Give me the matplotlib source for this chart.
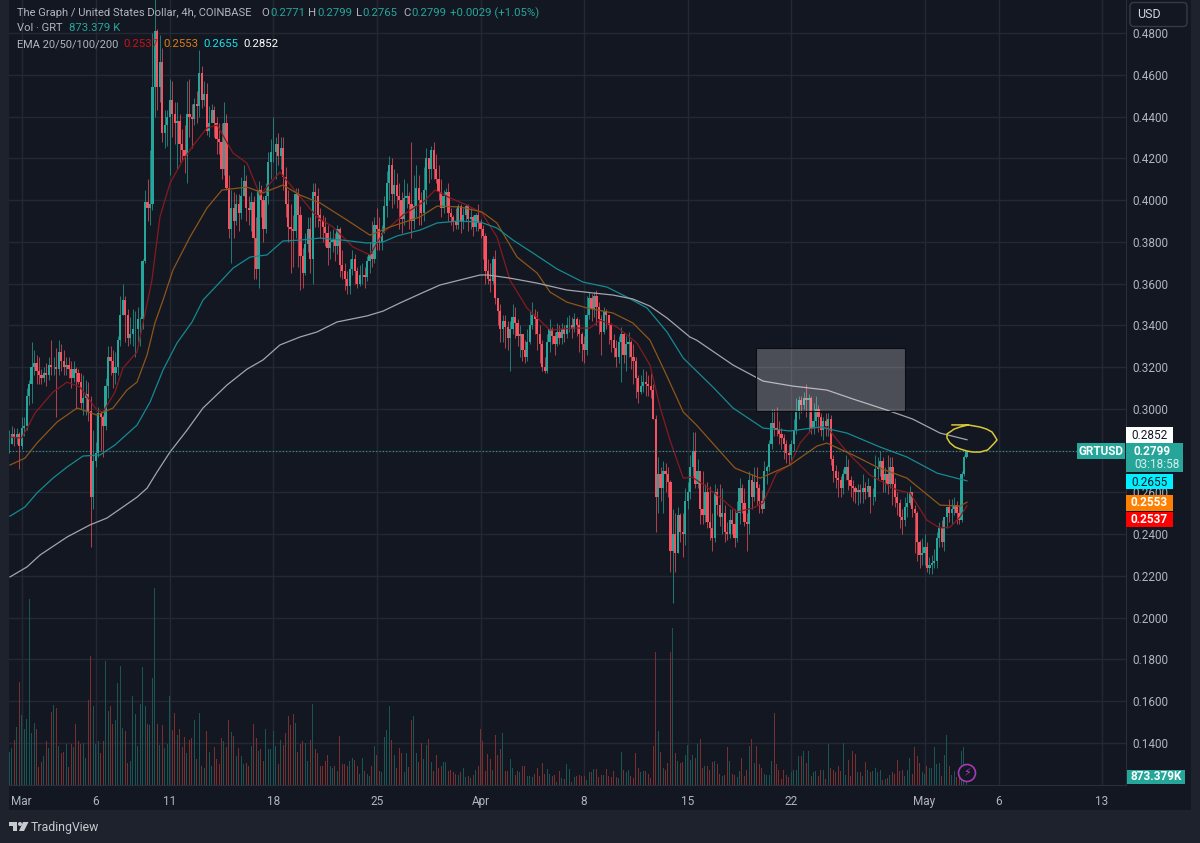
import numpy as np
import matplotlib
matplotlib.use("Agg")
import matplotlib.pyplot as plt
from matplotlib.patches import Rectangle, FancyBboxPatch, Polygon, Circle
from matplotlib.transforms import IdentityTransform

plt.rcParams['font.family'] = ['Roboto', 'DejaVu Sans']

# GRT/USD 4h candles, one row per day
closes = [
    .283, .288, .286, .288, .282,
    .291, .292, .306, .312, .320, .322,  # Mar 1
    .318, .316, .315, .317, .316, .321,
    .320, .320, .319, .327, .323, .320,
    .321, .319, .315, .319, .317, .313,
    .303, .305, .307, .299, .258, .275,
    .279, .298, .296, .292, .311, .325,  # Mar 6
    .323, .317, .320, .333, .345, .352,
    .345, .334, .336, .338, .338, .343,
    .343, .371, .399, .396, .398, .454,
    .481, .454, .466, .432, .436, .440,
    .448, .441, .437, .438, .427, .424,  # Mar 11
    .421, .441, .440, .439, .446, .445,
    .461, .448, .451, .433, .437, .443,
    .437, .429, .428, .415, .437, .406,
    .386, .396, .390, .398, .394, .402,
    .409, .396, .395, .399, .382, .367,
    .405, .400, .386, .402, .418, .423,
    .423, .427, .421, .425, .411, .398,  # Mar 18
    .387, .386, .385, .403, .393, .373,
    .365, .379, .386, .372, .404, .402,
    .393, .390, .387, .384, .377, .380,
    .381, .378, .386, .369, .366, .362,
    .359, .367, .372, .366, .360, .364,
    .364, .363, .371, .374, .372, .388,
    .386, .380, .384, .397, .408, .417,  # Mar 25
    .403, .407, .402, .400, .391, .401,
    .402, .398, .390, .397, .406, .400,
    .394, .405, .420, .415, .424, .415,
    .410, .404, .396, .402, .404, .394,
    .392, .390, .388, .397, .390, .393,
    .397, .391, .392, .387, .393, .389,
    .386, .383, .366, .362, .361, .372,  # Apr 1
    .353, .347, .338, .342, .339, .334,
    .338, .344, .341, .335, .336, .328,
    .325, .332, .340, .345, .343, .336,
    .331, .320, .318, .332, .338, .335,
    .331, .337, .334, .338, .336, .340,
    .340, .338, .343, .340, .336, .331,
    .328, .345, .353, .348, .354, .349,  # Apr 8
    .343, .337, .347, .345, .340, .333,
    .329, .325, .332, .336, .326, .331,
    .332, .325, .323, .315, .308, .311,
    .313, .312, .311, .309, .295, .258,
    .269, .262, .270, .269, .265, .232,
    .240, .231, .249, .241, .240, .256,
    .260, .272, .280, .264, .270, .252,  # Apr 15
    .249, .260, .246, .243, .238, .260,
    .254, .248, .250, .241, .240, .247,
    .245, .238, .250, .262, .255, .246,
    .245, .266, .258, .265, .262, .256,
    .252, .270, .272, .283, .293, .291,
    .290, .288, .286, .283, .279, .278,
    .283, .290, .299, .304, .302, .305,  # Apr 22
    .304, .305, .291, .294, .300, .296,
    .290, .294, .292, .295, .276, .270,
    .267, .266, .262, .269, .272, .266,
    .263, .262, .260, .261, .260, .262,
    .260, .263, .258, .258, .271, .272,
    .275, .266, .269, .264, .272, .264,
    .258, .255, .248, .247, .253, .255,  # Apr 29
    .260, .252, .250, .236, .230, .231,
    .234, .224, .225, .226, .227, .238,  # May 1
    .243, .236, .248, .253, .250, .252,
    .254, .250, .247, .269, .2771, .2799,
]
highs = [
    .290, .292, .291, .291, .289,
    .296, .296, .310, .314, .332, .328,
    .326, .325, .319, .320, .322, .325,
    .333, .325, .329, .333, .331, .328,
    .325, .325, .323, .323, .320, .319,
    .317, .316, .314, .313, .306, .290,
    .284, .301, .299, .297, .315, .330,
    .330, .328, .327, .335, .354, .360,
    .354, .348, .344, .348, .347, .349,
    .344, .372, .405, .410, .424, .480,
    .500, .482, .479, .473, .443, .443,
    .458, .457, .447, .447, .441, .434,
    .436, .457, .458, .446, .449, .452,
    .472, .464, .457, .456, .445, .446,
    .445, .440, .437, .437, .447, .441,
    .412, .405, .404, .403, .403, .411,
    .417, .412, .402, .404, .402, .392,
    .409, .407, .402, .408, .423, .429,
    .440, .430, .432, .430, .430, .416,
    .405, .398, .393, .406, .406, .397,
    .377, .384, .392, .392, .408, .408,
    .406, .396, .393, .392, .388, .385,
    .386, .384, .388, .387, .376, .370,
    .366, .372, .376, .374, .368, .369,
    .370, .368, .373, .380, .390, .392,
    .396, .392, .388, .402, .414, .421,
    .420, .415, .413, .408, .404, .410,
    .408, .404, .428, .412, .417, .412,
    .404, .416, .425, .420, .426, .428,
    .422, .417, .410, .405, .406, .408,
    .396, .393, .396, .398, .398, .396,
    .398, .398, .396, .393, .394, .398,
    .391, .388, .384, .372, .370, .373,
    .376, .352, .350, .345, .345, .342,
    .342, .350, .349, .343, .340, .335,
    .333, .338, .347, .351, .348, .347,
    .340, .333, .325, .336, .343, .339,
    .337, .341, .340, .341, .340, .344,
    .345, .344, .346, .344, .343, .337,
    .335, .354, .356, .355, .356, .357,
    .351, .345, .349, .348, .345, .341,
    .336, .333, .335, .339, .337, .335,
    .337, .333, .331, .325, .316, .316,
    .319, .318, .316, .317, .312, .297,
    .277, .272, .275, .274, .272, .266,
    .252, .250, .253, .250, .250, .262,
    .265, .278, .289, .289, .276, .268,
    .270, .264, .265, .263, .250, .264,
    .262, .264, .262, .254, .246, .252,
    .252, .252, .256, .267, .264, .262,
    .250, .270, .269, .272, .272, .264,
    .261, .275, .273, .285, .300, .300,
    .301, .294, .291, .288, .285, .283,
    .285, .295, .305, .306, .306, .308,
    .312, .307, .306, .303, .306, .302,
    .298, .296, .298, .298, .297, .278,
    .273, .270, .268, .271, .278, .276,
    .268, .266, .263, .264, .264, .269,
    .265, .267, .263, .262, .278, .277,
    .280, .277, .272, .278, .277, .277,
    .267, .260, .257, .252, .258, .260,
    .263, .260, .254, .251, .237, .238,
    .240, .236, .229, .230, .233, .241,
    .246, .247, .241, .252, .257, .257,
    .258, .256, .254, .270, .278, .2799,
]
lows = [
    .279, .283, .282, .283, .271,
    .281, .287, .290, .302, .303, .316,
    .312, .312, .312, .313, .311, .314,
    .316, .316, .296, .316, .318, .316,
    .316, .315, .310, .313, .300, .312,
    .300, .297, .297, .294, .234, .252,
    .272, .277, .280, .277, .290, .305,
    .316, .310, .312, .316, .330, .345,
    .332, .330, .331, .330, .325, .332,
    .330, .338, .370, .390, .388, .395,
    .440, .443, .447, .428, .425, .426,
    .412, .430, .427, .415, .418, .419,
    .413, .408, .430, .425, .436, .437,
    .440, .444, .445, .431, .430, .438,
    .430, .422, .422, .410, .412, .405,
    .382, .370, .382, .388, .385, .391,
    .402, .390, .388, .385, .362, .362,
    .358, .392, .380, .384, .398, .410,
    .418, .410, .417, .415, .405, .392,
    .380, .365, .368, .382, .368, .357,
    .358, .364, .375, .365, .360, .387,
    .387, .382, .380, .378, .369, .372,
    .375, .371, .374, .363, .362, .357,
    .355, .355, .364, .360, .358, .359,
    .360, .358, .361, .365, .368, .370,
    .376, .376, .376, .384, .392, .400,
    .396, .398, .396, .386, .384, .388,
    .396, .386, .382, .386, .392, .388,
    .388, .390, .398, .408, .410, .410,
    .408, .400, .392, .394, .397, .390,
    .388, .385, .386, .386, .384, .386,
    .390, .385, .386, .383, .385, .385,
    .382, .372, .360, .360, .356, .360,
    .350, .340, .332, .332, .329, .328,
    .318, .336, .334, .330, .325, .323,
    .322, .323, .331, .338, .336, .328,
    .322, .318, .317, .317, .327, .331,
    .326, .330, .331, .331, .332, .334,
    .337, .334, .337, .335, .327, .323,
    .322, .326, .343, .342, .344, .340,
    .336, .326, .336, .338, .331, .327,
    .325, .320, .322, .313, .322, .318,
    .325, .319, .312, .305, .303, .307,
    .308, .306, .306, .305, .295, .241,
    .250, .256, .250, .260, .258, .222,
    .207, .222, .231, .236, .229, .235,
    .252, .257, .268, .262, .262, .245,
    .245, .246, .243, .237, .232, .236,
    .249, .244, .240, .236, .237, .238,
    .240, .234, .236, .245, .250, .244,
    .232, .240, .252, .256, .254, .250,
    .250, .254, .264, .270, .281, .287,
    .287, .283, .281, .276, .274, .273,
    .275, .280, .288, .295, .298, .300,
    .296, .289, .288, .288, .292, .289,
    .287, .285, .287, .287, .273, .265,
    .262, .258, .258, .259, .266, .261,
    .258, .256, .255, .254, .255, .255,
    .257, .258, .250, .254, .256, .266,
    .268, .260, .260, .259, .262, .254,
    .253, .249, .243, .240, .244, .248,
    .254, .248, .231, .227, .224, .225,
    .225, .222, .221, .221, .224, .224,
    .234, .234, .232, .243, .246, .245,
    .249, .245, .245, .246, .268, .2765,
]
# volume in millions of GRT
volumes = [
    2.9, 3.2, 3.9, 5.1, 9.0, 6.1, 4.9, 5.8, 16.2, 4.5, 5.4, 4.9, 1.6, 2.0, 2.5, 3.8, 3.2, 6.4, 7.0, 6.7,
    3.4, 2.8, 2.9, 3.6, 1.6, 3.6, 3.3, 5.3, 3.8, 3.6, 3.7, 2.4, 7.4, 11.3, 6.9, 3.6, 3.8, 2.8, 3.8, 10.8,
    6.5, 6.9, 5.3, 5.7, 8.9, 10.4, 5.0, 4.7, 1.9, 2.1, 7.8, 6.2, 3.4, 7.1, 10.3, 6.9, 5.3, 5.2, 9.3, 17.2,
    5.3, 3.5, 5.2, 3.2, 3.6, 7.8, 4.8, 6.3, 4.4, 4.9, 3.3, 4.2, 2.8, 3.9, 4.1, 5.7, 2.3, 6.3, 1.7, 1.5,
    4.7, 2.9, 1.7, 3.3, 2.3, 1.8, 4.1, 3.8, 3.3, 5.7, 4.6, 4.3, 2.5, 3.2, 2.5, 1.8, 1.9, 1.7, 3.4, 5.3,
    4.1, 3.0, 3.1, 2.1, 4.9, 3.1, 3.1, 4.7, 3.4, 1.8, 3.9, 3.5, 4.5, 6.0, 5.2, 6.2, 5.4, 2.9, 3.6, 3.8,
    3.7, 2.1, 3.9, 7.1, 3.1, 2.8, 1.7, 1.7, 2.1, 2.6, 1.7, 1.5, 1.7, 1.2, 4.3, 1.8, 1.8, 1.7, 2.1, 2.4,
    2.2, 1.7, 1.0, 2.4, 1.2, 1.0, 0.8, 1.7, 3.4, 2.6, 1.2, 1.1, 4.2, 4.8, 6.9, 3.9, 2.6, 1.5, 3.2, 2.8,
    1.1, 2.8, 1.6, 5.7, 6.0, 2.8, 2.0, 3.7, 2.3, 3.5, 4.0, 2.0, 1.2, 2.6, 1.5, 1.7, 2.0, 2.0, 1.2, 1.3,
    1.1, 1.0, 0.9, 1.1, 1.5, 0.7, 0.8, 0.6, 0.9, 1.3, 1.7, 4.9, 3.8, 1.2, 2.7, 2.3, 1.3, 4.4, 2.6,
    3.1, 4.5, 1.2, 1.2, 2.3, 1.5, 0.9, 1.2, 1.1, 1.7, 1.7, 0.8, 0.8, 0.7, 1.0, 1.5, 0.8, 1.9, 1.0, 1.4,
    1.0, 0.8, 0.9, 0.3, 1.2, 0.6, 0.5, 1.8, 1.4, 0.3, 0.7, 0.8, 0.9, 0.8, 0.8, 0.4, 1.1, 1.1, 1.4, 1.4,
    0.7, 0.9, 0.9, 1.4, 0.8, 0.7, 1.2, 0.7, 0.6, 2.9, 1.3, 1.1, 1.3, 0.8, 0.6, 2.8, 1.5, 1.1, 1.2, 1.2,
    1.0, 0.6, 3.4, 11.6, 4.7, 2.9, 1.5, 1.3, 1.9, 11.6, 13.7, 2.8, 2.1, 1.9, 2.0, 2.6, 3.5, 2.2, 2.6, 2.4, 3.6,
    4.0, 1.5, 1.7, 1.7, 1.3, 2.0, 2.1, 1.8, 1.0, 0.8, 0.9, 3.3, 2.1, 1.0, 0.9, 0.7, 1.2, 2.4, 0.8, 1.3,
    3.4, 4.0, 1.9, 3.4, 1.8, 1.5, 1.0, 0.9, 0.9, 2.1, 6.3, 1.8, 1.3, 0.5, 1.3, 0.9, 0.7, 1.1, 1.3, 1.3,
    2.5, 2.5, 3.0, 1.9, 3.0, 0.8, 1.1, 1.2, 0.8, 1.3, 1.3, 0.5, 3.6, 1.5, 1.3, 1.1, 1.7, 1.2, 3.7, 0.9,
    2.2, 0.8, 3.0, 2.7, 1.1, 1.1, 0.8, 2.0, 1.3, 1.1, 1.2, 1.5, 1.1, 1.3, 0.4, 0.5, 0.6, 0.9, 1.1, 1.0,
    2.2, 1.2, 1.3, 0.8, 1.3, 2.4, 1.0, 3.3, 2.5, 1.9, 1.1, 1.0, 1.7, 1.5, 1.5, 3.3, 1.8, 1.9, 0.8, 2.6,
    4.4, 1.7, 0.9, 1.2, 0.7, 0.9, 3.0, 3.3, 0.873,
]

# EMA lines: days since Mar 1, price
ema200_days = [-.79, .36, 1.24, 3.06, 4.61, 5.76, 6.84, 7.79, 8.47, 9.14, 10.02, 11.17, 12.25, 13.87, 15.22, 16.3, 17.45, 18.8, 19.95, 21.3, 23.33, 24.41, 25.56, 27.05, 28.26, 29.61, 30.97, 31.5, 33.0, 34.83, 36.84, 38.6, 39.95, 41.3, 42.45, 43.6, 45.15, 45.6, 48.06, 50.09, 52.1, 54.4, 56.17, 58.46, 60.2, 62.05, 63.87]
ema200_vals = [.2195, .2243, .2300, .2386, .2444, .2477, .2530, .2577, .2620, .2697, .2793, .2898, .3004, .3114, .3190, .3234, .3306, .3344, .3368, .3416, .3445, .3468, .3507, .3555, .3593, .3617, .3641, .3641, .3626, .3602, .3569, .3555, .3545, .3526, .3492, .3435, .3344, .3329, .3210, .3133, .3109, .3090, .3047, .2994, .2951, .2884, .2852]
ema100_days = [-.79, .22, 1.03, 2.11, 3.06, 4.14, 5.29, 6.3, 7.79, 8.67, 9.55, 10.49, 11.51, 12.25, 13.4, 14.28, 15.43, 16.57, 17.65, 18.8, 20.16, 21.7, 23.33, 24.41, 25.36, 26.91, 28.06, 29.41, 30.97, 32.11, 33.2, 34.55, 36.17, 37.93, 39.55, 40.9, 42.25, 43.6, 44.7, 46.71, 48.06, 50.09, 51.91, 53.93, 55.76, 58.0, 59.82, 61.85, 63.87]
ema100_vals = [.2486, .2530, .2597, .2668, .2721, .2774, .2779, .2827, .2922, .3032, .3186, .3315, .3416, .3521, .3607, .3674, .3727, .3737, .3804, .3808, .3818, .3808, .3794, .3799, .3828, .3856, .3890, .3899, .3895, .3866, .3808, .3746, .3670, .3607, .3583, .3535, .3483, .3368, .3243, .3104, .3004, .2908, .2894, .2913, .2884, .2817, .2769, .2692, .2655]
ema50_days = [-.79, .22, 1.03, 2.39, 3.74, 5.09, 6.17, 7.11, 7.79, 8.47, 9.0, 9.55, 10.22, 11.37, 12.52, 13.53, 15.22, 16.3, 17.65, 18.8, 20.16, 21.98, 23.53, 24.89, 26.91, 28.06, 29.61, 31.1, 32.11, 33.47, 34.83, 35.7, 36.84, 38.2, 39.95, 41.3, 42.45, 43.47, 44.7, 45.6, 46.98, 48.2, 49.9, 51.91, 53.74, 54.4, 56.17, 57.79, 59.82, 62.05, 63.4, 63.87]
ema50_vals = [.2731, .2764, .2836, .2937, .3004, .2970, .3004, .3090, .3128, .3258, .3411, .3521, .3665, .3823, .3962, .4048, .4062, .4034, .4072, .4024, .3986, .3904, .3832, .3871, .3919, .3971, .3967, .3943, .3890, .3727, .3650, .3559, .3511, .3483, .3459, .3411, .3329, .3176, .2985, .2922, .2812, .2716, .2668, .2731, .2822, .2836, .2779, .2721, .2668, .2539, .2534, .2553]
ema20_days = [-.79, 0, .9, 2.11, 3.06, 3.94, 5.09, 5.49, 6.3, 6.84, 7.79, 8.2, 8.8, 9.34, 10.02, 10.9, 11.71, 12.52, 13.2, 14.28, 15.22, 16.1, 17.45, 18.6, 19.95, 21.03, 22.39, 23.53, 24.41, 25.76, 27.12, 27.93, 28.95, 30.08, 31.1, 32.11, 32.99, 34.14, 35.7, 37.25, 38.4, 39.07, 40.22, 41.57, 42.45, 43.13, 43.8, 44.7, 45.3, 46.3, 47.39, 48.33, 49.41, 50.09, 51.0, 51.91, 52.59, 53.47, 54.4, 55.76, 57.32, 59.14, 60.02, 61.16, 62.05, 62.73, 63.4, 63.87]
ema20_vals = [.2865, .2860, .2980, .3080, .3128, .3104, .2994, .2985, .3080, .3195, .3272, .3411, .3617, .3919, .4081, .4192, .4273, .4345, .4359, .4225, .4177, .4024, .4134, .4034, .3919, .3871, .3775, .3737, .3842, .3928, .3990, .4048, .4010, .3976, .3938, .3823, .3617, .3483, .3377, .3387, .3387, .3425, .3392, .3315, .3210, .3009, .2850, .2668, .2673, .2625, .2563, .2506, .2525, .2549, .2692, .2731, .2836, .2908, .2913, .2793, .2683, .2611, .2597, .2467, .2429, .2434, .2482, .2537]

# hand drawn marks on the chart
zone_days = [49.6, 59.7]
zone_prices = [.2990, .3290]
ring_days = [62.86, 63.94, 64.34, 64.75, 65.2, 65.56, 65.74, 65.9, 65.67, 65.27, 64.75, 64.26, 63.87, 63.4, 63.06, 62.72, 62.52, 62.52, 62.72, 63.0, 63.4, 63.94]
ring_prices = [.2923, .2923, .2918, .2913, .2903, .2889, .2870, .2851, .2832, .2803, .2793, .2793, .2798, .2808, .2817, .2837, .2860, .2880, .2889, .2903, .2913, .2923]

date_ticks = [0, 5, 10, 17, 24, 31, 38, 45, 52, 61, 66, 73]
date_labels = ["Mar", "6", "11", "18", "25", "Apr", "8", "15", "22", "May", "6", "13"]
price_ticks = [.14, .16, .18, .20, .22, .24, .26, .28, .30, .32, .34, .36, .38, .40, .42, .44, .46, .48]

BG = "#131722"
FRAME = "#1e222d"
GRID = "#242832"
LINE = "#2a2e39"
TEXT = "#b2b5be"
UP = "#26a69a"
DOWN = "#f7525f"
UP_VOL = "#1a5553"
DOWN_VOL = "#77302f"

W, H = 1200, 843
fig = plt.figure(figsize=(W / 100, H / 100), dpi=100, facecolor=FRAME)


def fx(x):
    return x / W


def fy(y):
    return 1 - y / H


# dark panel behind price and time axes
fig.add_artist(Rectangle((fx(9), fy(810)), fx(1191 - 9), 810 / H, transform=fig.transFigure,
                         facecolor=BG, edgecolor="none", zorder=-1))

ax = fig.add_axes([fx(9), fy(785), fx(1126 - 9), 785 / H], facecolor=BG)
ax.set_zorder(1)
ax.set_xlim((9 - 21.7) / 14.8, (1126 - 21.7) / 14.8)
ax.set_ylim(.48 - (785 - 33) / 2088, .48 + 33 / 2088)

vol_ax = ax.twinx()
vol_ax.set_ylim(0, 785 * .0873)
vol_ax.axis("off")

days = -5 / 6 + np.arange(len(closes)) / 6
closes_arr = np.array(closes)
opens_arr = np.r_[closes_arr[0], closes_arr[:-1]]
rising = closes_arr >= opens_arr
bar_colors = [UP if r else DOWN for r in rising]

n_vol = min(len(volumes), len(days))
vol_ax.bar(days[:n_vol], volumes[:n_vol], width=.07,
           color=[UP_VOL if r else DOWN_VOL for r in rising[:n_vol]], linewidth=0, zorder=1)

ax.set_xticks(date_ticks)
ax.set_xticklabels(date_labels)
ax.set_yticks(price_ticks)
ax.set_yticklabels(["%.4f" % p for p in price_ticks])
ax.yaxis.tick_right()
ax.grid(True, color=GRID, linewidth=1)
ax.set_axisbelow(True)
ax.tick_params(axis="x", length=0, pad=7, labelsize=8.5, labelcolor=TEXT)
ax.tick_params(axis="y", length=0, pad=4.5, labelsize=8.5, labelcolor=TEXT)
for name, spine in ax.spines.items():
    spine.set_visible(name in ("right", "bottom"))
    spine.set_color(LINE)

# candles go on a top axes so the volume stays under them
top = fig.add_axes(ax.get_position(), facecolor="none")
top.set_zorder(2)
top.set_xlim(ax.get_xlim())
top.set_ylim(ax.get_ylim())
top.axis("off")
top.vlines(days, lows, highs, colors=bar_colors, linewidth=.7, alpha=.7, zorder=2)
top.bar(days, np.abs(closes_arr - opens_arr), bottom=np.minimum(closes_arr, opens_arr), width=.15,
        color=bar_colors, linewidth=0, zorder=3)

top.plot(ema20_days, ema20_vals, color="#861a1e", linewidth=.9, zorder=4)
top.plot(ema50_days, ema50_vals, color="#8f5518", linewidth=.9, zorder=4)
top.plot(ema100_days, ema100_vals, color="#138a92", linewidth=.9, zorder=4)
top.plot(ema200_days, ema200_vals, color="#a3a5ab", linewidth=.9, zorder=4)

top.hlines(closes[-1], ax.get_xlim()[0], (1077 - 21.7) / 14.8, color=UP, linewidth=.8,
           linestyles=(0, (1, 2)), zorder=4)

top.add_patch(Rectangle((zone_days[0], zone_prices[0]), zone_days[1] - zone_days[0],
                        zone_prices[1] - zone_prices[0], facecolor="#ffffff", alpha=.24,
                        edgecolor="none", zorder=5))
top.add_patch(Rectangle((zone_days[0], zone_prices[0]), zone_days[1] - zone_days[0],
                        zone_prices[1] - zone_prices[0], facecolor="none", edgecolor="#0b0d12",
                        linewidth=.8, zorder=5))
top.plot(ring_days, ring_prices, color="#d8c83a", linewidth=1.1, zorder=6)

# lightning badge
fig.add_artist(Circle((967, H - 773), 8.5, transform=IdentityTransform(), facecolor=BG,
                      edgecolor="#a53ab5", linewidth=1.2, zorder=7))
fig.text(fx(967), fy(773), "\u26a1", color="#b040c0", fontsize=8, ha="center", va="center",
         family="DejaVu Sans", zorder=8)


def tag(x0, x1, y0, y1, color):
    fig.add_artist(Rectangle((fx(x0), fy(y1)), fx(x1 - x0), (y1 - y0) / H, transform=fig.transFigure,
                             facecolor=color, edgecolor="none", zorder=7))


def label(x, y, s, color=TEXT, size=8.5, **kw):
    kw.setdefault("va", "center")
    return fig.text(fx(x), fy(y), s, color=color, fontsize=size, zorder=8, **kw)


# last value tags on the price axis
tag(1126, 1172.5, 427, 443, "#ffffff")
label(1149, 435.5, "0.2852", "#131722", ha="center")
tag(1126, 1182.5, 443, 472, "#26a69a")
label(1134, 451, "0.2799", "#ffffff", weight="bold")
label(1134, 464, "03:18:58", "#d6efec")
tag(1126, 1172.5, 474, 489.5, "#00f0ff")
label(1149, 482, "0.2655", "#131722", ha="center")
tag(1126, 1172.5, 495, 510.5, "#ff7f00")
label(1149, 503, "0.2553", "#ffffff", ha="center", weight="bold")
tag(1126, 1172.5, 511.5, 526.5, "#ff0000")
label(1149, 519.5, "0.2537", "#ffffff", ha="center", weight="bold")
tag(1077, 1125, 443, 459, "#26a69a")
label(1101, 451, "GRTUSD", "#ffffff", ha="center", weight="bold")
tag(1127, 1185, 770, 784, "#26a69a")
label(1156, 777, "873.379K", "#ffffff", ha="center", weight="bold")

# USD button
fig.add_artist(FancyBboxPatch((1130, H - 26.5), 57, 24, boxstyle="round,pad=0,rounding_size=4",
                              transform=IdentityTransform(), facecolor=BG, edgecolor="#363a45",
                              linewidth=1, zorder=7))
label(1137, 15, "USD", "#d1d4dc", size=9)

# legend lines
label(17, 13, "The Graph / United States Dollar, 4h, COINBASE", size=8.05)
for x, s in [(261, "O"), (308, "H"), (356, "L"), (403, "C")]:
    label(x, 13, s, size=8.2)
for x, s in [(270, "0.2771"), (317, "0.2799"), (362, "0.2765"), (411, "0.2799"), (450, "+0.0029 (+1.05%)")]:
    label(x, 13, s, "#26a69a", size=8.2)
label(17, 28, "Vol \u00b7 GRT", size=8.05)
label(69, 28, "873.379 K", "#26a69a", size=8.2)
label(17, 44, "EMA 20/50/100/200", size=7.9)
for x, s, c in [(123, "0.2537", "#c81414"), (163, "0.2553", "#e07b10"),
                (203, "0.2655", "#19e0ea"), (243, "0.2852", "#ffffff")]:
    label(x, 44, s, c, size=8.2)

# TradingView mark
logo = "#c8cad0"
fig.add_artist(Polygon([(9, H - 822), (17, H - 822), (17, H - 831), (13, H - 831), (13, H - 826), (9, H - 826)],
                       closed=True, transform=IdentityTransform(), facecolor=logo, edgecolor="none", zorder=7))
fig.add_artist(Circle((20, H - 824), 2, transform=IdentityTransform(), facecolor=logo, edgecolor="none", zorder=7))
fig.add_artist(Polygon([(23, H - 822), (28.5, H - 822), (24, H - 831), (19, H - 831)],
                       closed=True, transform=IdentityTransform(), facecolor=logo, edgecolor="none", zorder=7))
label(31, 827, "TradingView", logo, size=8.8)

fig.savefig("out.png", dpi=100, facecolor=FRAME)
